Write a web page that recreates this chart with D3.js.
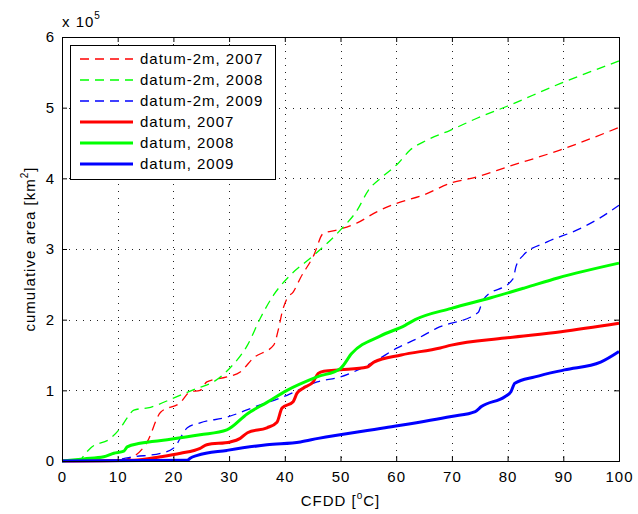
<!DOCTYPE html>
<html>
<head>
<meta charset="utf-8">
<script src="https://cdn.jsdelivr.net/npm/d3@7"></script>
<style>
  body { margin: 0; background: #fff; }
  text { font-family: "Liberation Sans", Arial, sans-serif; fill: #000; letter-spacing: 1px; }
</style>
</head>
<body>
<svg id="chart"></svg>
<script>
const width = 638;
const height = 514;

// values in units of 1e5 km^2, x in CFDD [oC]
const dashed2007 = [[0,0],[9.6,0],[12.5,0.05],[15.3,0.27],[17.7,0.69],[21.3,0.83],[23,0.98],[24.8,1.0],[26,1.12],[29.6,1.19],[32,1.26],[34.4,1.46],[38,1.64],[38.9,1.88],[39.5,2.1],[40.4,2.3],[41.5,2.39],[42.8,2.59],[45.2,2.91],[46.9,3.22],[49.4,3.27],[53,3.37],[56.6,3.53],[60.2,3.65],[64.8,3.76],[69.7,3.93],[74.5,4.02],[79.9,4.16],[89.4,4.40],[100,4.72]];
const dashed2008 = [[0,0],[3.3,0],[3.6,0.04],[5.1,0.18],[8.7,0.32],[10.5,0.47],[11.7,0.61],[12.9,0.72],[15.9,0.76],[20,0.89],[24.3,1.03],[27.2,1.12],[30.2,1.32],[33.3,1.64],[35.6,2.02],[38,2.35],[41,2.63],[45.2,2.91],[50,3.27],[53,3.55],[55,3.83],[57.5,4.02],[60.2,4.2],[62.5,4.40],[65.5,4.54],[69.7,4.68],[74.5,4.85],[79.9,5.02],[89.4,5.34],[100,5.66]];
const dashed2009 = [[0,0],[8.7,0.01],[12.9,0.06],[17.7,0.11],[20,0.18],[22.5,0.47],[24.8,0.54],[29.6,0.62],[34.4,0.76],[40.4,0.93],[45.8,1.12],[50,1.19],[55.9,1.40],[60.2,1.6],[64,1.74],[67.3,1.88],[74.7,2.1],[75.6,2.28],[81,2.58],[81.5,2.75],[82.8,2.91],[87.1,3.1],[92.5,3.27],[96.6,3.44],[100,3.62]];
const solid2007 = [[0,0],[12.9,0.01],[17.7,0.06],[21.3,0.11],[24.8,0.18],[26,0.23],[30.2,0.27],[32,0.32],[33.3,0.40],[36.8,0.47],[38.6,0.55],[39.5,0.75],[41.5,0.84],[42.2,0.96],[43.3,1.03],[45.1,1.12],[46,1.24],[47,1.27],[50,1.29],[54.8,1.33],[56,1.40],[60.9,1.50],[67.9,1.60],[69.9,1.64],[79.5,1.74],[89.6,1.83],[100,1.95]];
const solid2008 = [[0,0],[3.9,0.03],[7.5,0.06],[9.3,0.11],[11.1,0.14],[11.7,0.20],[14,0.25],[18.9,0.30],[24.8,0.37],[29.6,0.44],[33.3,0.67],[36.8,0.83],[40.4,1.0],[45.8,1.19],[50,1.31],[52,1.52],[57.2,1.77],[61.6,1.92],[63.4,2.0],[69.9,2.16],[77,2.31],[83.1,2.45],[89,2.59],[100,2.80]];
const solid2009 = [[0,0],[22.5,0.01],[23,0.04],[24.3,0.08],[29.6,0.15],[36.8,0.23],[42.8,0.27],[46,0.32],[58,0.47],[69.9,0.63],[74.2,0.70],[75.3,0.77],[79.5,0.91],[80.6,0.98],[81.3,1.10],[84.9,1.19],[90.2,1.29],[96.7,1.40],[100,1.55]];

const xTicks = [0, 10, 20, 30, 40, 50, 60, 70, 80, 90, 100];
const yTicks = [0, 1, 2, 3, 4, 5, 6];

const series = [
    { name: "datum-2m, 2007", values: dashed2007, color: "#ff0000", dashed: true },
    { name: "datum-2m, 2008", values: dashed2008, color: "#00ff00", dashed: true },
    { name: "datum-2m, 2009", values: dashed2009, color: "#0000ff", dashed: true },
    { name: "datum, 2007", values: solid2007, color: "#ff0000", dashed: false },
    { name: "datum, 2008", values: solid2008, color: "#00ff00", dashed: false },
    { name: "datum, 2009", values: solid2009, color: "#0000ff", dashed: false }
];

const margin = { left: 62, right: 19, top: 37, bottom: 53 };
const x = d3.scaleLinear().domain([0, 100]).range([margin.left, width - margin.right]);
const y = d3.scaleLinear().domain([0, 6]).range([height - margin.bottom, margin.top]);

const svg = d3.select("#chart")
    .attr("width", width)
    .attr("height", height);

// grid
const grid = svg.append("g")
    .attr("stroke", "#222")
    .attr("stroke-width", 1)
    .attr("stroke-dasharray", "1,6");
grid.selectAll(".gx")
    .data(xTicks.slice(1, -1))
    .join("line")
    .attr("x1", d => Math.round(x(d)) + 0.5).attr("x2", d => Math.round(x(d)) + 0.5)
    .attr("y1", y(6)).attr("y2", y(0));
grid.selectAll(".gy")
    .data(yTicks.slice(1, -1))
    .join("line")
    .attr("y1", d => Math.round(y(d)) + 0.5).attr("y2", d => Math.round(y(d)) + 0.5)
    .attr("x1", x(0)).attr("x2", x(100));

// curves
const line = d3.line()
    .x(d => x(d[0]))
    .y(d => y(d[1]))
    .curve(d3.curveMonotoneX);

const plot = svg.append("g");
plot.selectAll("path")
    .data(series)
    .join("path")
    .attr("fill", "none")
    .attr("stroke", d => d.color)
    .attr("stroke-width", d => d.dashed ? 1.3 : 3)
    .attr("stroke-dasharray", d => d.dashed ? "9,6" : null)
    .attr("d", d => line(d.values));

// axes, ticks inside on all four sides
const tickLen = 5;
svg.append("g")
    .attr("transform", `translate(0,${y(0)})`)
    .call(d3.axisBottom(x).tickValues(xTicks).tickFormat(d3.format("d")).tickSize(-tickLen).tickPadding(10))
    .call(g => g.selectAll("text").attr("font-size", 15));
svg.append("g")
    .attr("transform", `translate(0,${y(6)})`)
    .call(d3.axisTop(x).tickValues(xTicks).tickSize(-tickLen).tickFormat(""));
svg.append("g")
    .attr("transform", `translate(${x(0)},0)`)
    .call(d3.axisLeft(y).tickValues(yTicks).tickFormat(d3.format("d")).tickSize(-tickLen).tickPadding(7))
    .call(g => g.selectAll("text").attr("font-size", 15));
svg.append("g")
    .attr("transform", `translate(${x(100)},0)`)
    .call(d3.axisRight(y).tickValues(yTicks).tickSize(-tickLen).tickFormat(""));
svg.selectAll(".domain").attr("stroke", "#000");
svg.selectAll(".tick line").attr("stroke", "#000");

// exponent label
svg.append("text")
    .attr("x", x(0)).attr("y", 27)
    .attr("font-size", 15)
    .text("x 10")
    .append("tspan")
    .attr("dy", -8).attr("font-size", 10)
    .text("5");

// axis titles
const xt = svg.append("text")
    .attr("x", (x(0) + x(100)) / 2).attr("y", 506)
    .attr("text-anchor", "middle")
    .attr("font-size", 15)
    .text("CFDD [");
xt.append("tspan").attr("dy", -7).attr("font-size", 10).text("o");
xt.append("tspan").attr("dy", 7).text("C]");

const yt = svg.append("text")
    .attr("transform", `translate(35,${(y(0) + y(6)) / 2}) rotate(-90)`)
    .attr("text-anchor", "middle")
    .attr("font-size", 15)
    .text("cumulative area [km");
yt.append("tspan").attr("dy", -7).attr("font-size", 10).text("2");
yt.append("tspan").attr("dy", 7).text("]");

// legend
const legend = svg.append("g").attr("transform", "translate(70,45)");
legend.append("rect")
    .attr("x", 0.5).attr("y", 0.5)
    .attr("width", 205).attr("height", 134)
    .attr("fill", "#fff")
    .attr("stroke", "#000");
const item = legend.selectAll(".item")
    .data(series)
    .join("g")
    .attr("transform", (d, i) => `translate(0,${14 + i * 21})`);
item.append("line")
    .attr("x1", 10).attr("x2", 63)
    .attr("stroke", d => d.color)
    .attr("stroke-width", d => d.dashed ? 1.3 : 3)
    .attr("stroke-dasharray", d => d.dashed ? "9,6" : null);
item.append("text")
    .attr("x", 70).attr("dy", "0.35em")
    .attr("font-size", 15)
    .text(d => d.name);
</script>
</body>
</html>
